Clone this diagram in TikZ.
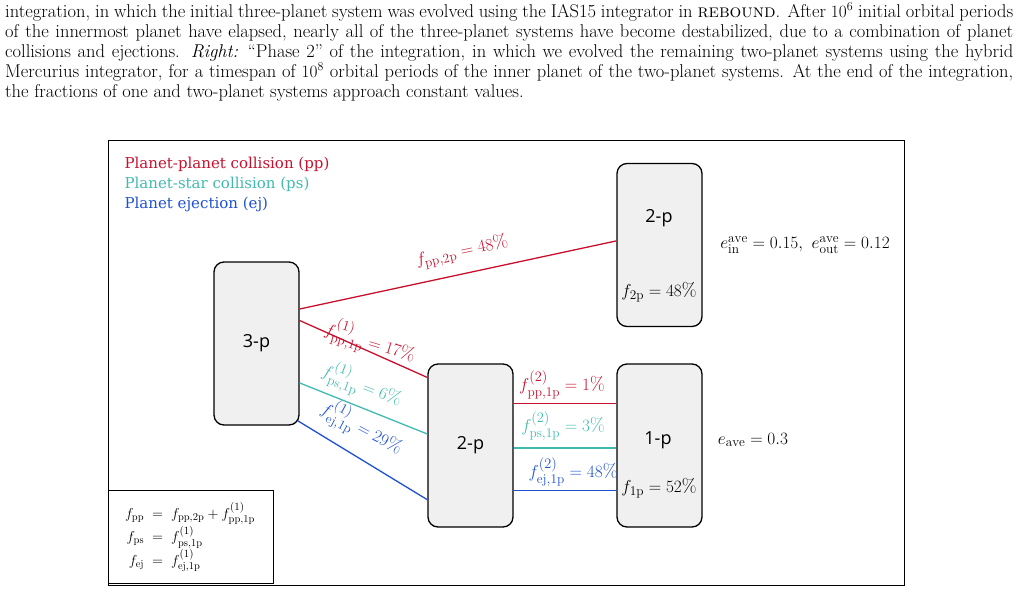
\documentclass[tikz,border=0pt]{standalone}
\usepackage{fontspec}
\usepackage{amsmath}
\usetikzlibrary{calc}
\newfontfamily\legfont{DejaVu Serif}
\newfontfamily\boxfont{Open Sans}
\definecolor{ppred}{RGB}{200,16,46}
\definecolor{psteal}{RGB}{64,186,176}
\definecolor{ejblue}{RGB}{30,80,210}
\tikzset{
  sysbox/.style={draw, line width=1.3pt, rounded corners=10pt, fill=black!6, minimum width=85pt, minimum height=163pt, inner sep=0pt},
  capline/.style={anchor=base west, inner sep=0pt, font=\fontsize{18.5}{22}\selectfont},
  flow/.style={line width=1.3pt},
  lab/.style={font=\fontsize{19}{22}\selectfont, inner sep=1pt}
}
\newcommand{\capl}[1]{\makebox[1008pt][s]{#1}}
\begin{document}
\begin{tikzpicture}[x=1pt,y=-1pt]
\useasboundingbox (0,0) rectangle (1017,592);
% caption
\node[capline] (cap1) at (5,17) {\capl{integration, in which the initial three-planet system was evolved using the IAS15 integrator in \textsc{rebound}. After $10^6$ initial orbital periods}};
\node[capline] (cap2) at (5,37) {\capl{of the innermost planet have elapsed, nearly all of the three-planet systems have become destabilized, due to a combination of planet}};
\node[capline] (cap3) at (5,57) {\capl{collisions and ejections. \textit{Right:} ``Phase 2'' of the integration, in which we evolved the remaining two-planet systems using the hybrid}};
\node[capline] (cap4) at (5,77) {\capl{Mercurius integrator, for a timespan of $10^8$ orbital periods of the inner planet of the two-planet systems. At the end of the integration,}};
\node[capline] (cap5) at (5,97) {the fractions of one and two-planet systems approach constant values.};
% frame
\draw[line width=1pt] (108,140) rectangle (904,585);
\node[anchor=west, text=ppred, font=\legfont\fontsize{15}{18}\selectfont] (leg1) at (121,164) {Planet-planet collision (pp)};
\node[anchor=west, text=psteal, font=\legfont\fontsize{15}{18}\selectfont] (leg2) at (121,184) {Planet-star collision (ps)};
\node[anchor=west, text=ejblue, font=\legfont\fontsize{15}{18}\selectfont] (leg3) at (121,204) {Planet ejection (ej)};
% systems
\node[sysbox] (threep) at (256.5,343.5) {};
\node[sysbox] (twopmid) at (470.5,445.5) {};
\node[sysbox] (twoptop) at (659.5,245) {};
\node[sysbox] (onep) at (659.5,445.5) {};
\node[font=\boxfont\fontsize{18}{20}\selectfont] at (threep) {3-p};
\node[font=\boxfont\fontsize{18}{20}\selectfont] at (twopmid) {2-p};
\node[font=\boxfont\fontsize{18}{20}\selectfont] at (659,218) {2-p};
\node[font=\boxfont\fontsize{18}{20}\selectfont] at (658,440) {1-p};
\node[lab] at (659,292) {$f_{\rm 2p} = 48\%$};
\node[lab] at (659,488) {$f_{\rm 1p} = 52\%$};
% flows from 3-p
\draw[flow, ppred] ($(threep.north east)!0.29!(threep.south east)$) -- ($(twoptop.north west)!0.475!(twoptop.south west)$);
\draw[flow, ppred] ($(threep.north east)!0.36!(threep.south east)$) -- ($(twopmid.north west)!0.086!(twopmid.south west)$);
\draw[flow, psteal] ($(threep.north east)!0.74!(threep.south east)$) -- ($(twopmid.north west)!0.43!(twopmid.south west)$);
\draw[flow, ejblue] ($(threep.north east)!0.97!(threep.south east)+(-2,0)$) -- ($(twopmid.north west)!0.83!(twopmid.south west)$);
\node[lab, text=ppred, rotate=12] at (462,252) {$f_{\rm pp,2p} = 48\%$};
\node[lab, text=ppred, rotate=-17] at (370,342) {$f^{(1)}_{\rm pp,1p} = 17\%$};
\node[lab, text=psteal, rotate=-21] at (362,385) {$f^{(1)}_{\rm ps,1p} = 6\%$};
\node[lab, text=ejblue, rotate=-28] at (362,428) {$f^{(1)}_{\rm ej,1p} = 29\%$};
% flows from 2-p
\draw[flow, ppred] ($(twopmid.north east)!0.245!(twopmid.south east)$) -- ($(onep.north west)!0.245!(onep.south west)$);
\draw[flow, psteal] ($(twopmid.north east)!0.515!(twopmid.south east)$) -- ($(onep.north west)!0.515!(onep.south west)$);
\draw[flow, ejblue] ($(twopmid.north east)!0.773!(twopmid.south east)$) -- ($(onep.north west)!0.773!(onep.south west)$);
\node[lab, text=ppred] at (562,385) {$f^{(2)}_{\rm pp,1p} = 1\%$};
\node[lab, text=psteal] at (563,426) {$f^{(2)}_{\rm ps,1p} = 3\%$};
\node[lab, text=ejblue] at (573,472) {$f^{(2)}_{\rm ej,1p} = 48\%$};
% eccentricities
\node[lab] at (805,245) {$e_{\rm in}^{\rm ave} = 0.15,\ e_{\rm out}^{\rm ave} = 0.12$};
\node[lab] at (753,440) {$e_{\rm ave} = 0.3$};
% sums
\draw[line width=1pt] (108,490) rectangle (273,583);
\node[font=\fontsize{15}{17}\selectfont] (sums) at (190,537) {$\begin{aligned}
f_{\rm pp} &\;=\; f_{\rm pp,2p} + f^{(1)}_{\rm pp,1p}\\[-3pt]
f_{\rm ps} &\;=\; f^{(1)}_{\rm ps,1p}\\[-3pt]
f_{\rm ej} &\;=\; f^{(1)}_{\rm ej,1p}
\end{aligned}$};
\end{tikzpicture}
\end{document}
